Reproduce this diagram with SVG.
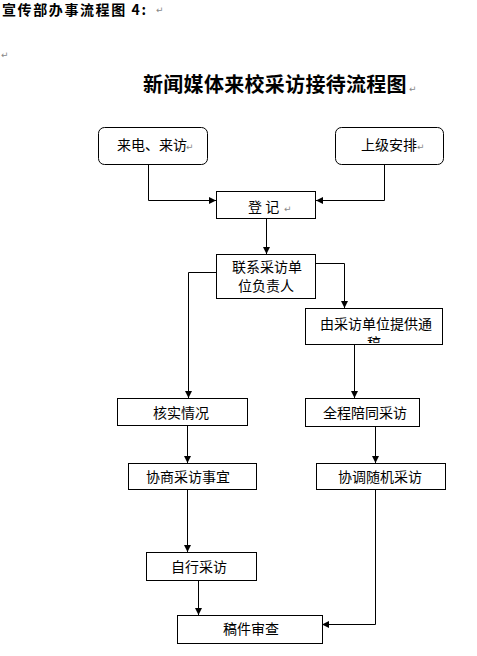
<svg xmlns="http://www.w3.org/2000/svg" width="477" height="656" viewBox="0 0 477 656">
<style>
.bg{fill:#fff}
.box{fill:#fff;stroke:#000;stroke-width:1}
.t{font-family:"Noto Sans CJK SC","Liberation Sans",sans-serif;font-size:14px;fill:#000}
.pm{font-family:"DejaVu Sans",sans-serif;font-size:9px;fill:#888}
.h{font-family:"Noto Sans CJK SC","Liberation Serif",serif;font-weight:bold;fill:#000}
.c{fill:none;stroke:#000;stroke-width:1}
</style>
<defs>
<marker id="arr" viewBox="0 0 8 8" refX="8" refY="4" markerWidth="7" markerHeight="7" markerUnits="userSpaceOnUse" orient="auto">
<path d="M0,0 L8,4 L0,8 z" fill="#000"/>
</marker>
<clipPath id="clipYc"><rect x="305" y="308" width="137" height="35"/></clipPath>
</defs>
<rect class="bg" x="0" y="0" width="477" height="656"/>
<g id="header">
<text class="h" x="2" y="15" font-size="14" letter-spacing="1.6">宣传部办事流程图 4:</text>
<text class="pm" x="156" y="13">↵</text>
<text class="pm" x="1" y="58">↵</text>
</g>
<g id="title">
<text class="h" x="143" y="92" font-size="20" letter-spacing="0.3">新闻媒体来校采访接待流程图</text>
<text class="pm" x="409" y="92">↵</text>
</g>
<g id="connectors">
<polyline class="c" points="148.5,164 148.5,200.5 216,200.5" marker-end="url(#arr)"/>
<polyline class="c" points="384.5,164 384.5,200.5 316,200.5" marker-end="url(#arr)"/>
<polyline class="c" points="266.5,218 266.5,254" marker-end="url(#arr)"/>
<polyline class="c" points="216,272.5 188.5,272.5 188.5,398" marker-end="url(#arr)"/>
<polyline class="c" points="316,263.5 344.5,263.5 344.5,308" marker-end="url(#arr)"/>
<polyline class="c" points="354.5,344 354.5,398" marker-end="url(#arr)"/>
<polyline class="c" points="187.5,425 187.5,463" marker-end="url(#arr)"/>
<polyline class="c" points="375.5,426 375.5,463" marker-end="url(#arr)"/>
<polyline class="c" points="187.5,489 187.5,552" marker-end="url(#arr)"/>
<polyline class="c" points="198.5,580 198.5,615" marker-end="url(#arr)"/>
<polyline class="c" points="375.5,489 375.5,624.5 322,624.5" marker-end="url(#arr)"/>
</g>
<g id="laidian">
<rect class="box" x="98.5" y="127.5" width="109" height="37" rx="6"/>
<text class="t" x="117" y="150">来电、来访</text>
<text class="pm" x="186" y="150">↵</text>
</g>
<g id="shangji">
<rect class="box" x="335.5" y="127.5" width="108" height="37" rx="6"/>
<text class="t" x="361" y="150">上级安排</text>
<text class="pm" x="417" y="150">↵</text>
</g>
<g id="dengji">
<rect class="box" x="216.5" y="191.5" width="99" height="27"/>
<text class="t" x="248" y="212">登 记</text>
<text class="pm" x="284" y="212">↵</text>
</g>
<g id="lianxi">
<rect class="box" x="216.5" y="254.5" width="99" height="44"/>
<text class="t" x="232" y="272" font-size="13.5">联系采访单</text>
<text class="t" x="238" y="291" font-size="13.5">位负责人</text>
</g>
<g id="youcaifang">
<rect class="box" x="305.5" y="308.5" width="137" height="36"/>
<text class="t" x="320" y="329" font-size="13.5">由采访单位提供通</text>
<text class="t" x="367" y="348" font-size="12" clip-path="url(#clipYc)">稿</text>
</g>
<g id="heshi">
<rect class="box" x="117.5" y="398.5" width="130" height="27"/>
<text class="t" x="153" y="418">核实情况</text>
</g>
<g id="quancheng">
<rect class="box" x="305.5" y="398.5" width="114" height="28"/>
<text class="t" x="323" y="418">全程陪同采访</text>
</g>
<g id="xieshang">
<rect class="box" x="128.5" y="463.5" width="128" height="26"/>
<text class="t" x="146" y="482">协商采访事宜</text>
</g>
<g id="xietiao">
<rect class="box" x="316.5" y="463.5" width="129" height="26"/>
<text class="t" x="338" y="482">协调随机采访</text>
</g>
<g id="zixing">
<rect class="box" x="146.5" y="552.5" width="110" height="28"/>
<text class="t" x="171" y="572">自行采访</text>
</g>
<g id="gaojian">
<rect class="box" x="177.5" y="615.5" width="145" height="28"/>
<text class="t" x="223" y="634">稿件审查</text>
</g>
</svg>
